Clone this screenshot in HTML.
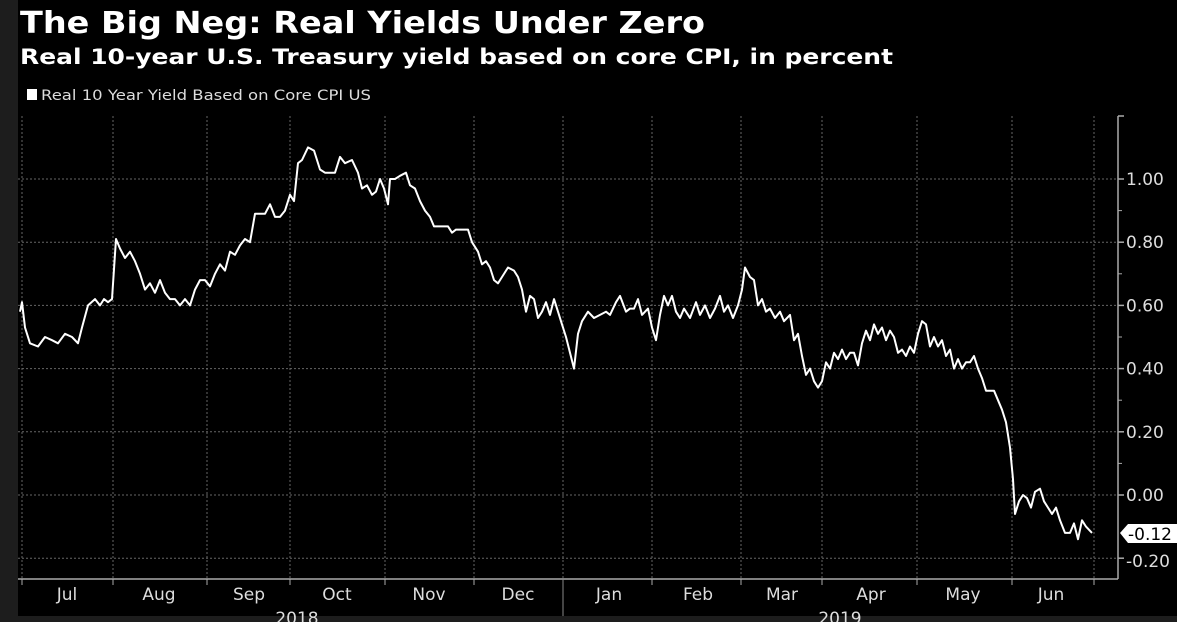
<!DOCTYPE html>
<html><head><meta charset="utf-8"><style>
html,body{margin:0;padding:0;background:#000;width:1177px;height:622px;overflow:hidden}
</style></head><body>
<svg id="s" width="1177" height="622" xmlns="http://www.w3.org/2000/svg" style="display:block">
<rect width="1177" height="622" fill="#000"/>
<rect x="0" y="0" width="18" height="622" fill="#1d1d1d"/>
<rect x="0" y="616" width="1177" height="6" fill="#1d1d1d"/>
<text x="20" y="33" fill="#fff" font-family="DejaVu Sans, sans-serif" font-weight="bold" font-size="30" textLength="685" lengthAdjust="spacingAndGlyphs">The Big Neg: Real Yields Under Zero</text>
<text x="20" y="64" fill="#fff" font-family="DejaVu Sans, sans-serif" font-weight="bold" font-size="21" textLength="873" lengthAdjust="spacingAndGlyphs">Real 10-year U.S. Treasury yield based on core CPI, in percent</text>
<rect x="27" y="89" width="10" height="11" fill="#fff"/>
<text x="41" y="100" fill="#ddd" font-family="DejaVu Sans, sans-serif" font-size="14" textLength="330" lengthAdjust="spacingAndGlyphs">Real 10 Year Yield Based on Core CPI US</text>
<g id="grid" stroke="#666" stroke-width="1" stroke-dasharray="2,2"></g>
<line x1="18" y1="579" x2="1118" y2="579" stroke="#aaa" stroke-width="1.5"/>
<line x1="1118" y1="116" x2="1118" y2="579" stroke="#aaa" stroke-width="1.5"/>
<g id="ax" font-family="DejaVu Sans, sans-serif" font-size="17" fill="#ddd"></g>
<polyline id="ln" fill="none" stroke="#fff" stroke-width="2" stroke-linejoin="round"/>
<polygon points="1120,533 1128,524 1177,524 1177,543 1128,543" fill="#fff"/>
<text x="1128" y="540" fill="#000" font-family="DejaVu Sans, sans-serif" font-size="17">-0.12</text>
</svg>
<script>
var NS="http://www.w3.org/2000/svg",g=document.getElementById('grid'),ax=document.getElementById('ax');
function el(p,t,a,txt){var e=document.createElementNS(NS,t);for(var k in a)e.setAttribute(k,a[k]);if(txt)e.textContent=txt;p.appendChild(e);return e;}
function Y(v){return 495-v*316;}
[1,0.8,0.6,0.4,0.2,0,-0.2].forEach(function(v){var y=Y(v);el(g,'line',{x1:18,x2:1118,y1:y,y2:y});
el(ax,'line',{x1:1118,x2:1124,y1:y,y2:y,stroke:'#aaa','stroke-width':1.5});
if(Math.abs(v+0.2)<1e-6)y=561;
el(ax,'text',{x:1126,y:y+6},v.toFixed(2).replace('-0.20','-0.20'));});
[0.9,0.7,0.5,0.3,0.1].forEach(function(v){var y=Y(v);el(ax,'line',{x1:1118,x2:1122,y1:y,y2:y,stroke:'#aaa','stroke-width':1});});
el(ax,'line',{x1:1118,x2:1124,y1:116,y2:116,stroke:'#aaa','stroke-width':1.5});
[22,113,207,290,385,474,563,652,741,822,917,1012,1094].forEach(function(x){el(g,'line',{x1:x,x2:x,y1:116,y2:579});
el(ax,'line',{x1:x,x2:x,y1:579,y2:585,stroke:'#aaa','stroke-width':1});});
el(ax,'line',{x1:563,x2:563,y1:579,y2:616,stroke:'#888','stroke-width':1});
var m=[['Jul',67],['Aug',159],['Sep',249],['Oct',337],['Nov',429],['Dec',518],['Jan',609],['Feb',698],['Mar',782],['Apr',871],['May',963],['Jun',1051]];
m.forEach(function(a){el(ax,'text',{x:a[1],y:600,'text-anchor':'middle'},a[0]);});
el(ax,'text',{x:297,y:624,'text-anchor':'middle'},'2018');
el(ax,'text',{x:840,y:624,'text-anchor':'middle'},'2019');
var d=[20,.58,22,.61,25,.53,30,.48,38,.47,45,.50,52,.49,58,.48,65,.51,72,.50,78,.48,82,.53,88,.60,95,.62,100,.60,104,.62,108,.61,112,.62,116,.81,120,.78,125,.75,130,.77,135,.74,140,.70,145,.65,150,.67,155,.64,160,.68,165,.64,170,.62,175,.62,180,.60,185,.62,190,.60,195,.65,200,.68,205,.68,210,.66,215,.70,220,.73,225,.71,230,.77,235,.76,240,.79,245,.81,250,.80,255,.89,260,.89,265,.89,270,.92,275,.88,280,.88,285,.90,290,.95,294,.93,298,1.05,302,1.06,308,1.10,314,1.09,320,1.03,325,1.02,330,1.02,335,1.02,340,1.07,345,1.05,352,1.06,358,1.02,362,.97,367,.98,372,.95,376,.96,380,1.00,384,.97,388,.92,390,1.00,395,1.00,400,1.01,406,1.02,410,.98,415,.97,420,.93,425,.90,430,.88,434,.85,440,.85,448,.85,452,.83,456,.84,462,.84,468,.84,472,.80,478,.77,482,.73,486,.74,490,.72,494,.68,498,.67,502,.69,508,.72,514,.71,518,.69,522,.65,526,.58,530,.63,534,.62,538,.56,542,.58,546,.61,550,.57,554,.62,558,.58,562,.54,566,.50,570,.45,574,.40,578,.51,582,.55,588,.58,594,.56,600,.57,606,.58,610,.57,616,.61,620,.63,626,.58,630,.59,634,.59,638,.62,642,.57,648,.59,652,.53,656,.49,660,.57,664,.63,668,.60,672,.63,676,.58,680,.56,684,.59,690,.56,696,.61,700,.57,705,.60,710,.56,715,.59,720,.63,724,.58,728,.60,733,.56,738,.60,742,.65,745,.72,750,.69,754,.68,758,.60,762,.62,766,.58,770,.59,775,.56,780,.58,784,.55,790,.57,794,.49,798,.51,802,.44,806,.38,810,.40,814,.36,818,.34,822,.36,826,.42,830,.40,834,.45,838,.43,842,.46,846,.43,850,.45,854,.45,858,.41,862,.48,866,.52,870,.49,874,.54,878,.51,882,.53,886,.49,890,.52,894,.50,898,.45,902,.46,906,.44,910,.47,914,.45,918,.51,922,.55,926,.54,930,.47,934,.50,938,.47,942,.49,946,.44,950,.46,954,.40,958,.43,962,.40,966,.42,970,.42,974,.44,978,.40,982,.37,986,.33,990,.33,994,.33,998,.30,1002,.27,1006,.23,1010,.15,1013,.05,1015,-.06,1019,-.02,1023,0,1027,-.01,1031,-.04,1035,.01,1040,.02,1044,-.02,1048,-.04,1052,-.06,1056,-.04,1060,-.08,1065,-.12,1070,-.12,1074,-.09,1078,-.14,1082,-.08,1086,-.10,1092,-.12];
var p=[];for(var i=0;i<d.length;i+=2)p.push(d[i]+','+Y(d[i+1]).toFixed(1));
document.getElementById('ln').setAttribute('points',p.join(' '));
</script>
</body></html>
